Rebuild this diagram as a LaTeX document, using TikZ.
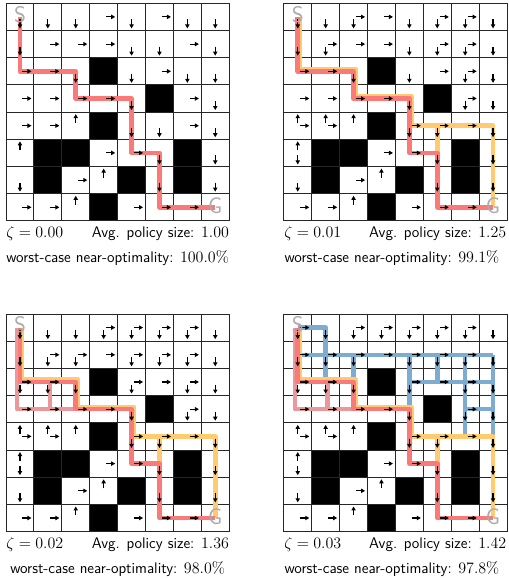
\documentclass[tikz,border=0pt]{standalone}
\usetikzlibrary{arrows.meta}
\definecolor{pRed}{RGB}{250,122,122}
\definecolor{pPink}{RGB}{234,152,154}
\definecolor{pOrange}{RGB}{255,202,112}
\definecolor{pBlue}{RGB}{125,172,208}
\tikzset{
  gl/.style={line width=0.75pt, black!85},
  qa/.style={line width=0.85pt, -{Triangle[length=3pt,width=3.2pt]}},
  pathln/.style={line width=3.4pt, line join=round, line cap=butt},
  redln/.style={pathln, pRed},
  pinkln/.style={pathln, pPink},
  orgln/.style={pathln, pOrange},
  blueln/.style={pathln, pBlue},
  lbl/.style={font=\fontsize{17}{17}\selectfont\sffamily, text=black!33, inner sep=0pt},
  captxt/.style={font=\fontsize{11.5}{13}\selectfont\sffamily, inner sep=0pt},
}
\newcommand\arrD[2]{\draw[qa] ([yshift=-1.9pt]#1+0.5,#2+0.5) -- ++(0pt,-6.75pt);}
\newcommand\arrU[2]{\draw[qa] ([yshift=1.9pt]#1+0.5,#2+0.5) -- ++(0pt,6.75pt);}
\newcommand\arrR[2]{\draw[qa] ([xshift=1.9pt]#1+0.5,#2+0.5) -- ++(6.75pt,0pt);}
\newcommand\arrDR[2]{\arrD{#1}{#2}\arrR{#1}{#2}}
\newcommand\arrUR[2]{\arrU{#1}{#2}\arrR{#1}{#2}}
\newcommand\arrUD[2]{\arrU{#1}{#2}\arrD{#1}{#2}}
\newcommand\gridbase{%
  \foreach \c/\r in {3/2,5/3,3/4,1/5,2/5,6/5,1/6,4/6,6/6,3/7} \fill[black] (\c,\r) rectangle ++(1,1);
  \foreach \i in {0,...,8} {\draw[gl] (\i,0) -- (\i,8); \draw[gl] (0,\i) -- (8,\i);}
}
\newcommand\optpath{\draw[redln] (0.5,0.5) -- (0.5,2.5) -- (2.5,2.5) -- (2.5,3.5) -- (4.5,3.5) -- (4.5,5.5) -- (5.5,5.5) -- (5.5,7.5) -- (7.5,7.5);}
\newcommand\orgpaths{%
  \draw[orgln] ([xshift=1.7pt]0.5,0.5) -- ([xshift=1.7pt,yshift=1.7pt]0.5,2.5) -- ([xshift=1.7pt,yshift=1.7pt]2.5,2.5) -- ([xshift=1.7pt,yshift=1.7pt]2.5,3.5) -- ([xshift=1.7pt,yshift=1.7pt]4.5,3.5) -- ([xshift=1.7pt]4.5,4.5) -- (7.5,4.5) -- (7.5,7.5);
  \draw[orgln] (5.5,4.5) -- (5.5,5.5);
}
\newcommand\pinkpaths{%
  \draw[pinkln] ([xshift=-2.2pt]0.5,0.5) -- ([xshift=-2.2pt]0.5,3.5) -- (4.5,3.5);
  \draw[pinkln] ([xshift=1.5pt]1.5,2.5) -- ([xshift=1.5pt]1.5,3.5);
}
\newcommand\labelsSG[1]{%
  \node[lbl] (S#1) at ([yshift=2pt]0.5,0.5) {S};
  \node[lbl] (G#1) at ([yshift=1.3pt]7.5,7.5) {G};
}
\begin{document}
\begin{tikzpicture}[x=0.75pt,y=-0.75pt]
\useasboundingbox (0,0) rectangle (509,578);
\fill[white] (0,0) rectangle (509,578);

% ---------- grid 1 ----------
\begin{scope}[xshift=4.5pt,yshift=-2.475pt,x=20.925pt,y=-20.4pt]
  \gridbase
  \optpath
  \foreach \c/\r/\a in {0/0/D,1/0/D,2/0/D,3/0/R,4/0/D,5/0/R,6/0/D,7/0/D,
    0/1/D,1/1/R,2/1/R,3/1/R,4/1/D,5/1/D,6/1/R,7/1/D,
    0/2/R,1/2/R,2/2/D,4/2/D,5/2/R,6/2/D,7/2/D,
    0/3/R,1/3/R,2/3/R,3/3/R,4/3/D,6/3/R,7/3/D,
    0/4/R,1/4/R,2/4/U,4/4/D,5/4/D,6/4/R,7/4/D,
    0/5/U,3/5/R,4/5/R,5/5/D,7/5/D,
    0/6/D,2/6/R,3/6/U,5/6/D,7/6/D,
    0/7/R,1/7/R,2/7/U,4/7/R,5/7/R,6/7/R}{\csname arr\a\endcsname{\c}{\r}}
  \labelsSG{1}
\end{scope}

% ---------- grid 2 ----------
\begin{scope}[xshift=212.85pt,yshift=-2.475pt,x=20.925pt,y=-20.4pt]
  \gridbase
  \orgpaths
  \optpath
  \foreach \c/\r/\a in {0/0/D,1/0/D,2/0/DR,3/0/R,4/0/D,5/0/DR,6/0/DR,7/0/D,
    0/1/D,1/1/DR,2/1/R,3/1/R,4/1/D,5/1/DR,6/1/DR,7/1/D,
    0/2/R,1/2/R,2/2/D,4/2/D,5/2/R,6/2/DR,7/2/D,
    0/3/R,1/3/R,2/3/R,3/3/R,4/3/D,6/3/DR,7/3/D,
    0/4/UR,1/4/UR,2/4/U,4/4/DR,5/4/DR,6/4/R,7/4/D,
    0/5/UD,3/5/R,4/5/R,5/5/D,7/5/D,
    0/6/D,2/6/R,3/6/U,5/6/D,7/6/D,
    0/7/R,1/7/R,2/7/U,4/7/R,5/7/R,6/7/R}{\csname arr\a\endcsname{\c}{\r}}
  \labelsSG{2}
\end{scope}

% ---------- grid 3 ----------
\begin{scope}[xshift=4.5pt,yshift=-235.5pt,x=20.925pt,y=-20.4pt]
  \gridbase
  \pinkpaths
  \orgpaths
  \optpath
  \foreach \c/\r/\a in {0/0/D,1/0/D,2/0/D,3/0/DR,4/0/DR,5/0/DR,6/0/DR,7/0/D,
    0/1/D,1/1/DR,2/1/DR,3/1/R,4/1/DR,5/1/DR,6/1/DR,7/1/D,
    0/2/DR,1/2/DR,2/2/D,4/2/DR,5/2/R,6/2/DR,7/2/D,
    0/3/R,1/3/R,2/3/R,3/3/R,4/3/D,6/3/DR,7/3/D,
    0/4/UR,1/4/UR,2/4/U,4/4/DR,5/4/DR,6/4/R,7/4/D,
    0/5/UD,3/5/R,4/5/R,5/5/D,7/5/D,
    0/6/D,2/6/R,3/6/U,5/6/D,7/6/D,
    0/7/R,1/7/R,2/7/U,4/7/R,5/7/R,6/7/R}{\csname arr\a\endcsname{\c}{\r}}
  \labelsSG{3}
\end{scope}

% ---------- grid 4 ----------
\begin{scope}[xshift=212.85pt,yshift=-235.5pt,x=20.925pt,y=-20.4pt]
  \gridbase
  \draw[blueln] (0.5,0.5) -- (1.5,0.5) -- (1.5,2.5);
  \draw[blueln] (0.5,1.5) -- (7.5,1.5);
  \draw[blueln] (2.5,1.5) -- (2.5,2.5);
  \draw[blueln] (4.5,1.5) -- (4.5,3.5);
  \draw[blueln] (4.5,2.5) -- (7.5,2.5);
  \draw[blueln] (5.5,1.5) -- (5.5,2.5);
  \draw[blueln] (6.5,1.5) -- (6.5,4.5);
  \draw[blueln] (6.5,3.5) -- (7.5,3.5);
  \draw[blueln] (7.5,1.5) -- (7.5,4.5);
  \pinkpaths
  \orgpaths
  \optpath
  \foreach \c/\r/\a in {0/0/DR,1/0/D,2/0/DR,3/0/DR,4/0/DR,5/0/DR,6/0/DR,7/0/D,
    0/1/DR,1/1/DR,2/1/DR,3/1/R,4/1/DR,5/1/DR,6/1/DR,7/1/D,
    0/2/DR,1/2/DR,2/2/D,4/2/DR,5/2/R,6/2/DR,7/2/D,
    0/3/R,1/3/R,2/3/R,3/3/R,4/3/D,6/3/DR,7/3/D,
    0/4/UR,1/4/UR,2/4/U,4/4/DR,5/4/DR,6/4/R,7/4/D,
    0/5/UD,3/5/R,4/5/R,5/5/D,7/5/D,
    0/6/D,2/6/R,3/6/U,5/6/D,7/6/D,
    0/7/R,1/7/R,2/7/U,4/7/R,5/7/R,6/7/R}{\csname arr\a\endcsname{\c}{\r}}
  \labelsSG{4}
\end{scope}

% ---------- captions ----------
\node[captxt, anchor=base west] (z1) at (6,237.3) {$\zeta = 0.00$};
\node[captxt, anchor=base east] (a1) at (229.2,237.3) {Avg. policy size: $1.00$};
\node[captxt, anchor=base] (w1) at (117.6,262.3) {worst-case near-optimality: $100.0\%$};

\node[captxt, anchor=base west] (z2) at (284,237.3) {$\zeta = 0.01$};
\node[captxt, anchor=base east] (a2) at (506.5,237.3) {Avg. policy size: $1.25$};
\node[captxt, anchor=base] (w2) at (392,262.3) {worst-case near-optimality: $99.1\%$};

\node[captxt, anchor=base west] (z3) at (6,548.1) {$\zeta = 0.02$};
\node[captxt, anchor=base east] (a3) at (229.2,548.1) {Avg. policy size: $1.36$};
\node[captxt, anchor=base] (w3) at (117.6,573.1) {worst-case near-optimality: $98.0\%$};

\node[captxt, anchor=base west] (z4) at (284,548.1) {$\zeta = 0.03$};
\node[captxt, anchor=base east] (a4) at (506.5,548.1) {Avg. policy size: $1.42$};
\node[captxt, anchor=base] (w4) at (392,573.1) {worst-case near-optimality: $97.8\%$};
\end{tikzpicture}
\end{document}
